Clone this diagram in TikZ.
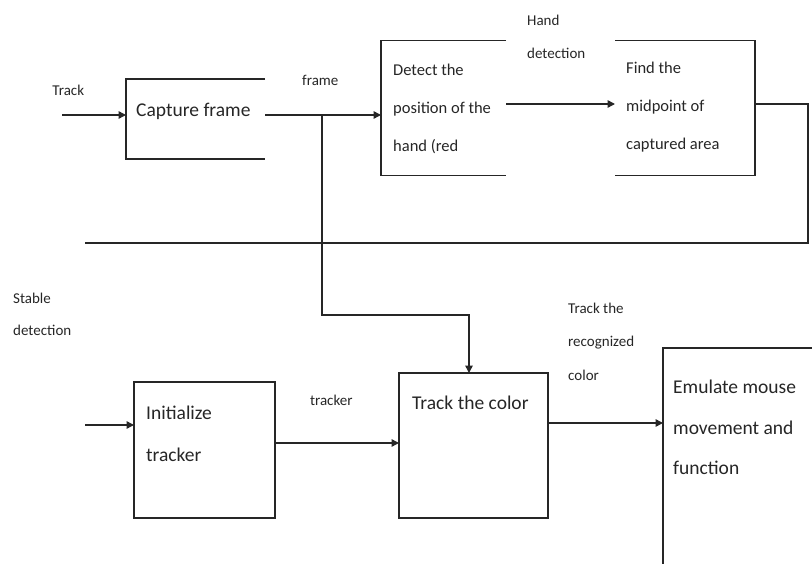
\documentclass[tikz,border=0pt]{standalone}
\usepackage{fontspec}
\setmainfont{Carlito}
\usepackage{tikz}
\usetikzlibrary{
  arrows.meta,
  positioning,
  calc
}
\definecolor{InkGray}{HTML}{262626}
\tikzset{
  block/.style={
    inner sep=0pt,
    outer sep=0pt
  },
  closedblock/.style={
    block,
    draw=InkGray,
    line width=1.5pt
  },
  side/.style={
    draw=InkGray,
    line width=1.5pt
  },
  boxtext/.style={
    anchor=west,
    align=left,
    inner sep=0pt,
    text=InkGray,
    font=\fontsize{19.5}{39}\selectfont
  },
  smallboxtext/.style={
    boxtext,
    font=\fontsize{16.5}{38}\selectfont
  },
  tag/.style={
    align=left,
    inner sep=0pt,
    text=InkGray,
    font=\fontsize{15}{33.5}\selectfont
  },
  flow/.style={
    -{Triangle[length=7.5pt,width=7.5pt]},
    draw=InkGray,
    line width=1.5pt
  },
  wire/.style={
    draw=InkGray,
    line width=1.5pt
  }
}

\begin{document}
\begin{tikzpicture}[x=1pt,y=-1pt]

  \useasboundingbox (0,0) rectangle (812,564);

  % boxes
  \node[
    block,
    minimum width=139,
    minimum height=80
  ] at (195.5,119) (cap) {};

  \node[
    block,
    minimum width=125,
    minimum height=135
  ] at (443.5,108) (det) {};

  \node[
    block,
    minimum width=140,
    minimum height=135
  ] at (685,108) (mid) {};

  \node[
    closedblock,
    minimum width=141,
    minimum height=136
  ] at (204.5,450) (init) {};

  \node[
    closedblock,
    minimum width=149,
    minimum height=145
  ] at (473.5,445.5) (trk) {};

  \node[
    block,
    minimum width=149,
    minimum height=216
  ] at (737.5,456) (emu) {};

  \draw[side]
  (cap.north east) -- (cap.north west) --
  (cap.south west) -- (cap.south east);

  \draw[side]
  (det.north east) -- (det.north west) --
  (det.south west) -- (det.south east);

  \draw[side]
  (mid.north west) -- (mid.north east) --
  (mid.south east) -- (mid.south west);

  \draw[side]
  (emu.north east) -- (emu.north west) --
  (emu.south west);

  % box texts
  \node[boxtext] at (136,111) (captxt) {
    Capture frame
  };

  \node[smallboxtext] at (393,109) (dettxt) {
    Detect the\\position of the\\hand (red
  };

  \node[smallboxtext] at (626,107) (midtxt) {
    Find the\\midpoint of\\captured area
  };

  \node[
    boxtext,
    font=\fontsize{19.5}{42}\selectfont
  ] at (146,434) (inittxt) {
    Initialize\\tracker
  };

  \node[boxtext] at (412,403) (trktxt) {
    Track the color
  };

  \node[
    boxtext,
    font=\fontsize{19.5}{40.5}\selectfont
  ] at (673,427.5) (emutxt) {
    Emulate mouse\\movement and\\function
  };

  % labels
  \node[tag] at (70,90) (tracklbl) {
    Track
  };

  \node[tag] at (322,80) (framelbl) {
    frame
  };

  \node[
    tag,
    anchor=west
  ] at (527,37) (handlbl) {
    Hand\\detection
  };

  \node[
    tag,
    anchor=west,
    font=\fontsize{15}{32}\selectfont
  ] at (13,314) (stablelbl) {
    Stable\\detection
  };

  \node[tag] at (333,400) (trackerlbl) {
    tracker
  };

  \node[
    tag,
    anchor=west
  ] at (568,341.5) (colorlbl) {
    Track the\\recognized\\color
  };

  % connectors
  \coordinate (trackin) at (62,115);
  \coordinate (split) at (322,115);
  \coordinate (bend) at (469,315);
  \coordinate (loopend) at (85,243);
  \coordinate (stablein) at (85,425);

  \draw[flow]
  (trackin) --
  (trackin -| cap.west);

  \draw[flow]
  (cap.east |- trackin) --
  (det.west |- trackin);

  \draw[flow]
  (split) |- (bend) --
  (bend |- trk.north);

  \draw[flow]
  ([yshift=4pt]det.east) --
  ([yshift=4pt]det.east -| mid.west);

  \draw[wire]
  ([yshift=4pt]mid.east) --
  ++(53,0) |- (loopend);

  \draw[flow]
  (stablein) --
  (stablein -| init.west);

  \draw[flow]
  ([yshift=7pt]init.east) --
  ([yshift=7pt]init.east -| trk.west);

  \draw[flow]
  ([yshift=22.5pt]trk.east) --
  ([yshift=22.5pt]trk.east -| emu.west);

\end{tikzpicture}
\end{document}
